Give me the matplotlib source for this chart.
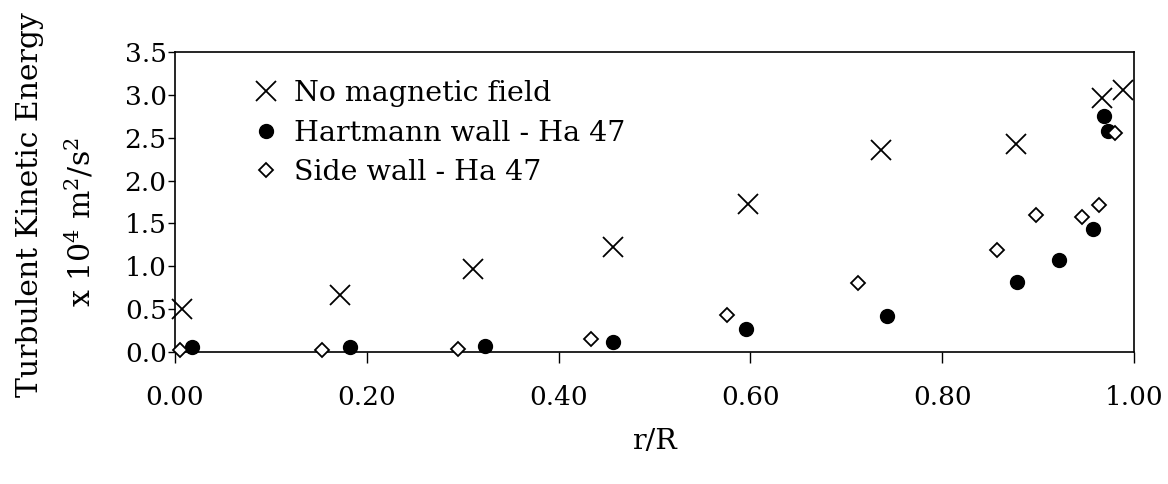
#!/usr/bin/env python3
"""
Turbulent kinetic energy profiles across the duct, with and without magnetic field
"""

import matplotlib
matplotlib.use("Agg")
import matplotlib.pyplot as plt

plt.rcParams['font.family'] = ['DejaVu Serif']
plt.rcParams['mathtext.fontset'] = 'dejavuserif'

# Radial position r/R and TKE (x 10^4 m^2/s^2)
r_no_field = [0.007, 0.172, 0.311, 0.457, 0.598, 0.736, 0.877, 0.967, 0.989]
k_no_field = [0.50, 0.67, 0.97, 1.22, 1.73, 2.36, 2.43, 2.96, 3.06]

r_hartmann = [0.018, 0.182, 0.323, 0.457, 0.595, 0.742, 0.878, 0.922, 0.957, 0.969, 0.973]
k_hartmann = [0.06, 0.06, 0.07, 0.12, 0.27, 0.42, 0.82, 1.07, 1.43, 2.75, 2.58]

r_side = [0.005, 0.153, 0.295, 0.434, 0.576, 0.712, 0.857, 0.898, 0.946, 0.964, 0.980]
k_side = [0.02, 0.02, 0.04, 0.15, 0.43, 0.81, 1.19, 1.60, 1.58, 1.71, 2.56]

x_ticks = [0.0, 0.2, 0.4, 0.6, 0.8, 1.0]
y_ticks = [0.0, 0.5, 1.0, 1.5, 2.0, 2.5, 3.0, 3.5]

FS = 19      # tick labels
FS_LAB = 20.5  # axis titles and legend


def plot_tke():
    fig = plt.figure(figsize=(11.68, 4.84), dpi=100)
    ax = fig.add_axes([0.1498, 0.2727, 0.8211, 0.6199])

    ax.plot(r_no_field, k_no_field, linestyle='none', marker='x', ms=14,
            mew=1.3, color='black', clip_on=False, zorder=3,
            label='No magnetic field')
    ax.plot(r_hartmann, k_hartmann, linestyle='none', marker='o', ms=10,
            color='black', clip_on=False, zorder=3,
            label='Hartmann wall - Ha 47')
    ax.plot(r_side, k_side, linestyle='none', marker='D', ms=7.5,
            mew=1.3, mfc='white', mec='black', clip_on=False, zorder=4,
            label='Side wall - Ha 47')

    ax.set_xlim(0, 1.0)
    ax.set_ylim(0, 3.5)
    ax.set_xticks(x_ticks)
    ax.set_xticklabels([f'{v:.2f}' for v in x_ticks], fontsize=FS)
    ax.set_yticks(y_ticks)
    ax.set_yticklabels([f'{v:.1f}' for v in y_ticks], fontsize=FS)
    ax.tick_params(axis='x', direction='out', length=8, width=1, pad=16)
    ax.tick_params(axis='y', direction='out', length=5, width=1, pad=1)
    for s in ax.spines.values():
        s.set_linewidth(1.2)

    ax.set_xlabel('r/R', fontsize=FS_LAB, labelpad=13)

    fig.text(30 / 1168, 1 - 205 / 484, 'Turbulent Kinetic Energy', fontsize=FS_LAB + 1,
             rotation=90, ha='center', va='center')
    fig.text(80 / 1168, 1 - 222 / 484, r'x 10$^4$ m$^2$/s$^2$', fontsize=FS_LAB + 1,
             rotation=90, ha='center', va='center')

    ax.legend(loc='upper left', bbox_to_anchor=(0.068, 0.955), frameon=False,
              fontsize=FS_LAB, handlelength=0.8, handletextpad=0.6,
              labelspacing=0.45, borderpad=0)

    fig.savefig('out.png', dpi=100)
    plt.close(fig)


if __name__ == "__main__":
    plot_tke()
